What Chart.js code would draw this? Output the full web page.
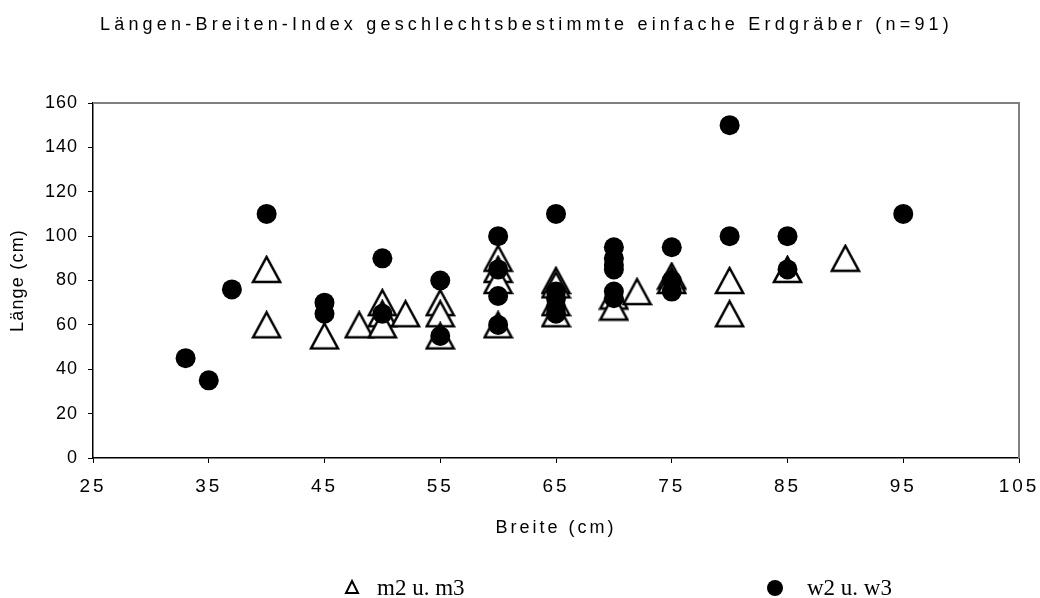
<!DOCTYPE html>
<html>
<head>
<meta charset="utf-8">
<script src="https://cdn.jsdelivr.net/npm/chart.js@4.4.0/dist/chart.umd.min.js"></script>
<style>
  html, body { margin: 0; padding: 0; background: #fff; }
  #wrap { width: 1040px; height: 598px; }
</style>
</head>
<body>
<div id="wrap"><canvas id="chart" width="1040" height="598"></canvas></div>
<script>
// values (Breite, Länge)
var M_BREITE = [40, 40, 45, 48, 50, 50, 50, 52, 55, 55, 55, 60, 60, 60, 60, 65, 65, 65, 65, 70, 70, 72, 75, 75, 80, 80, 85, 90];
var M_LAENGE = [85, 60, 55, 60, 70, 65, 60, 65, 70, 65, 55, 90, 85, 80, 60, 80, 78, 70, 65, 73, 68, 75, 82, 80, 80, 65, 85, 90];

var W_BREITE = [33, 35, 37, 40, 45, 45, 50, 50, 55, 55, 60, 60, 60, 60, 65, 65, 65, 65, 65, 70, 70, 70, 70, 70, 70, 75, 75, 75, 80, 80, 85, 85, 95];
var W_LAENGE = [45, 35, 76, 110, 70, 65, 90, 65, 80, 55, 100, 85, 73, 60, 110, 75, 72, 68, 65, 95, 90, 87, 85, 75, 72, 95, 80, 75, 150, 100, 100, 85, 110];

var TITLE = "Längen-Breiten-Index geschlechtsbestimmte einfache Erdgräber (n=91)";
var X_TITLE = "Breite (cm)";
var Y_TITLE = "Länge (cm)";
var LEGEND_M = "m2 u. m3";
var LEGEND_W = "w2 u. w3";

var SANS = '"Liberation Sans", Arial, sans-serif';
var SERIF = '"Liberation Serif", "Times New Roman", serif';

function toPoints(xs, ys) {
  return xs.map(function (x, i) { return { x: x, y: ys[i] }; });
}

// open triangle marker, centred on its box like the Excel one
function makeTriangle(w, h, lw) {
  const c = document.createElement('canvas');
  c.width = w + 4;
  c.height = h + 4;
  const g = c.getContext('2d');
  g.strokeStyle = '#000';
  g.fillStyle = '#fff';
  g.lineWidth = lw;
  g.beginPath();
  g.moveTo(c.width / 2, 2);
  g.lineTo(c.width - 2, h + 2);
  g.lineTo(2, h + 2);
  g.closePath();
  g.fill();
  g.stroke();
  return c;
}
var TRI = makeTriangle(27, 25, 2.5);

// letter spacing per axis (the Excel text is spread out)
var SPACING = { x: '3px', y: '1px' };
var TITLE_SPACING = { x: '3px', y: '1.2px' };

var extrasPlugin = {
  id: 'extras',
  afterLayout: function (chart) {
    ['x', 'y'].forEach(function (id) {
      const s = chart.scales[id];
      if (s._spaced) return;
      const origLabels = s.drawLabels;
      const origTitle = s.drawTitle;
      s.drawLabels = function (area) {
        this.ctx.save();
        this.ctx.letterSpacing = SPACING[id];
        origLabels.call(this, area);
        this.ctx.restore();
      };
      s.drawTitle = function (area) {
        this.ctx.save();
        this.ctx.letterSpacing = TITLE_SPACING[id];
        origTitle.call(this, area);
        this.ctx.restore();
      };
      s._spaced = true;
    });
  },
  afterDraw: function (chart) {
    const ctx = chart.ctx;
    const a = chart.chartArea;
    ctx.save();
    // gray frame on top and right
    ctx.strokeStyle = '#808080';
    ctx.lineWidth = 2;
    ctx.beginPath();
    ctx.moveTo(a.left, a.top);
    ctx.lineTo(a.right, a.top);
    ctx.lineTo(a.right, a.bottom);
    ctx.stroke();

    // title, spread to the same width as the original
    ctx.fillStyle = '#000';
    ctx.font = '18px ' + SANS;
    ctx.letterSpacing = '0px';
    const w0 = ctx.measureText(TITLE).width;
    const sp = (853 - w0) / TITLE.length;
    ctx.letterSpacing = sp + 'px';
    ctx.textAlign = 'left';
    ctx.textBaseline = 'alphabetic';
    ctx.fillText(TITLE, 100, 30);

    // legend
    ctx.letterSpacing = '0px';
    ctx.lineWidth = 2;
    ctx.strokeStyle = '#000';
    ctx.beginPath();
    ctx.moveTo(352, 581);
    ctx.lineTo(358, 593);
    ctx.lineTo(346, 593);
    ctx.closePath();
    ctx.stroke();
    ctx.beginPath();
    ctx.arc(775, 588, 8, 0, Math.PI * 2);
    ctx.fill();
    ctx.font = '23px ' + SERIF;
    ctx.textAlign = 'left';
    ctx.fillText(LEGEND_M, 377, 595);
    ctx.fillText(LEGEND_W, 807, 595);
    ctx.restore();
  }
};

const ctx = document.getElementById('chart');

new Chart(ctx, {
  type: 'scatter',
  data: {
    datasets: [
      {
        label: LEGEND_W,
        data: toPoints(W_BREITE, W_LAENGE),
        pointStyle: 'circle',
        pointRadius: 10,
        pointHoverRadius: 10,
        backgroundColor: '#000',
        borderColor: '#000',
        borderWidth: 0,
        order: 0
      },
      {
        label: LEGEND_M,
        data: toPoints(M_BREITE, M_LAENGE),
        pointStyle: TRI,
        pointRadius: 14,
        pointHoverRadius: 14,
        backgroundColor: '#fff',
        borderColor: '#000',
        order: 1
      }
    ]
  },
  options: {
    responsive: false,
    animation: false,
    layout: { padding: { top: 103, right: 21, bottom: 59, left: 0 } },
    plugins: {
      legend: { display: false },
      tooltip: { enabled: false }
    },
    scales: {
      x: {
        type: 'linear',
        min: 25,
        max: 105,
        ticks: {
          stepSize: 10,
          color: '#000',
          font: { family: SANS, size: 19 },
          padding: 12
        },
        grid: { drawOnChartArea: false, drawTicks: true, tickLength: 5, color: '#000' },
        border: { color: '#000', width: 1.5 },
        title: {
          display: true,
          text: X_TITLE,
          color: '#000',
          font: { family: SANS, size: 18 },
          padding: { top: 0, bottom: 0 }
        },
        afterFit: function (scale) {
          scale.height = 81;
          scale.paddingLeft = 0;
          scale.paddingRight = 0;
        }
      },
      y: {
        type: 'linear',
        min: 0,
        max: 160,
        ticks: {
          stepSize: 20,
          color: '#000',
          font: { family: SANS, size: 18 },
          padding: 10
        },
        grid: { drawOnChartArea: false, drawTicks: true, tickLength: 5, color: '#000' },
        border: { color: '#000', width: 1.5 },
        title: {
          display: true,
          text: Y_TITLE,
          color: '#000',
          font: { family: SANS, size: 18 },
          padding: { top: 7, bottom: 0 }
        },
        afterFit: function (scale) {
          scale.width = 93;
          scale.paddingTop = 0;
          scale.paddingBottom = 0;
        }
      }
    }
  },
  plugins: [extrasPlugin]
});
</script>
</body>
</html>
